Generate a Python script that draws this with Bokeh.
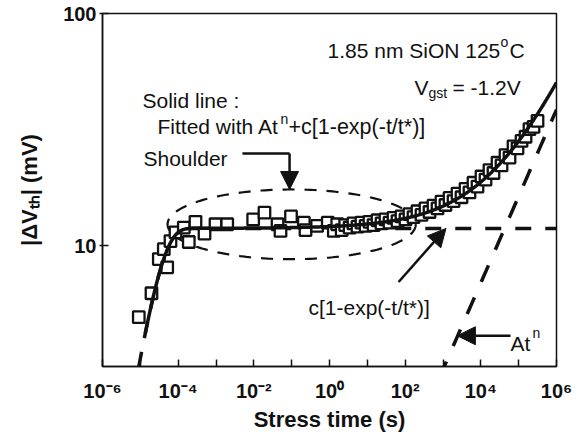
import numpy as np
from bokeh.plotting import figure
from bokeh.models import Label, Arrow, NormalHead, FixedTicker, CustomJSTickFormatter, Range1d
from bokeh.embed import file_html
from bokeh.resources import INLINE

# ---- measured threshold-voltage shift |dVth| (mV) versus stress time (s) ----
stress_time = [
    9.1e-6, 1.97e-5, 3.08e-5, 4.17e-5, 5.13e-5, 6.27e-5, 8.5e-5, 1.41e-4, 1.91e-4,
    2.87e-4, 4.97e-4, 9.7e-4, 1.98e-3, 9.6e-3, 1.91e-2, 4.23e-2, 5.07e-2, 9.6e-2,
    0.21, 0.232, 0.47, 0.90,
    1.3, 1.6, 2.1, 2.6, 3.4, 4.3, 5.5, 7.0, 9.0, 11.4, 14.6, 18.6, 23.7, 30.2, 38.6,
    49.2, 62.7, 80, 102, 130, 166, 212, 270, 345, 440, 561, 716, 912, 1160, 1490,
    1900, 2420, 3080, 3940, 5010, 6400, 8170, 10400, 13300, 16900, 21600, 27600,
    35200, 44900, 57300, 73000, 93100, 119000, 152000, 193000, 247000, 315000,
]
delta_vth = [
    4.94, 6.26, 8.78, 9.69, 8.09, 10.5, 11.45, 12.0, 10.4,
    12.7, 11.3, 12.4, 12.4, 13.0, 13.9, 12.4, 11.6, 13.4,
    12.6, 11.7, 12.2, 12.6,
    11.6, 12.4, 11.7, 12.3, 12.0, 12.5, 12.1, 12.6, 12.2, 12.7, 12.3, 12.9, 12.5, 13.0, 12.6,
    13.2, 12.8, 13.4, 13.0, 13.7, 13.3, 14.1, 13.6, 14.5, 14.0, 14.9, 14.5, 15.5, 15.0, 16.1,
    15.6, 16.8, 16.2, 17.6, 17.0, 18.7, 18.0, 19.9, 19.3, 21.2, 20.6, 22.8,
    22.2, 24.6, 24.0, 26.8, 26.3, 28.3, 29.5, 31.8, 32.5, 34.5,
]

# fitted model  dVth = A t^n + c [1 - exp(-t/t*)]
A_fit = 0.2246
n_fit = 0.3725
c_fit = 11.9
t_star = 3.1e-5

x_range = (1e-6, 1e6)
y_range = (3.03, 100)
x_tick_exponents = list(range(-6, 7))
x_tick_labels = ["10\u207b\u2076", "", "10\u207b\u2074", "", "10\u207b\u00b2", "",
                 "10\u2070", "", "10\u00b2", "", "10\u2074", "", "10\u2076"]
y_ticks = [10, 100]
y_tick_labels = ["10", "100"]
x_title = "Stress time (s)"
y_title = "|\u0394V\u209c\u2095| (mV)"

# ---- layout ----
W, H = 584, 434
LEFT, RIGHT, TOP, BOTTOM = 102, 28, 13, 66
FRAME_W, FRAME_H = W - LEFT - RIGHT, H - TOP - BOTTOM
FONT = "Liberation Sans"
INK = "#111111"

p = figure(width=W, height=H, x_axis_type="log", y_axis_type="log",
           x_range=Range1d(*x_range), y_range=Range1d(*y_range),
           output_backend="svg", toolbar_location=None,
           min_border_left=LEFT, min_border_right=RIGHT,
           min_border_top=TOP, min_border_bottom=BOTTOM)
p.title.visible = False
p.grid.visible = False
p.outline_line_color = INK
p.outline_line_width = 1.5
p.background_fill_color = "white"
p.border_fill_color = "white"

for ax in (p.xaxis[0], p.yaxis[0]):
    ax.axis_line_color = INK
    ax.axis_line_width = 1.5
    ax.major_tick_line_color = INK
    ax.major_tick_line_width = 1.5
    ax.minor_tick_line_color = None
    ax.major_label_text_font = FONT
    ax.major_label_text_font_style = "bold"
    ax.major_label_text_color = INK
    ax.axis_label_text_font = FONT
    ax.axis_label_text_font_style = "bold"
    ax.axis_label_text_color = INK

xax = p.xaxis[0]
xax.ticker = FixedTicker(ticks=[10.0 ** e for e in x_tick_exponents], minor_ticks=[])
xax.formatter = CustomJSTickFormatter(
    args=dict(exps=x_tick_exponents, labels=x_tick_labels),
    code="const i = exps.indexOf(Math.round(Math.log10(tick))); return i >= 0 ? labels[i] : '';")
xax.major_tick_in = 7
xax.major_tick_out = 0
xax.major_label_text_font_size = "20px"
xax.major_label_standoff = 13
xax.axis_label = x_title
xax.axis_label_text_font_size = "22px"
xax.axis_label_standoff = 2

yax = p.yaxis[0]
yax.ticker = FixedTicker(ticks=y_ticks, minor_ticks=[])
yax.formatter = CustomJSTickFormatter(
    args=dict(ticks_at=y_ticks, labels=y_tick_labels),
    code="const i = ticks_at.findIndex(v => Math.abs(v - tick) < 1e-9 * v); return i >= 0 ? labels[i] : '';")
yax.major_tick_in = 6
yax.major_tick_out = 3
yax.major_label_text_font_size = "20px"
yax.major_label_standoff = 3
yax.axis_label = y_title
yax.axis_label_text_font_size = "22px"
yax.axis_label_standoff = 18

lx0, lx1 = np.log10(x_range)
ly0, ly1 = np.log10(y_range)


def at(px, py):
    """Canvas position (pixels from top-left) -> data coordinates."""
    fx = (px - LEFT) / FRAME_W
    fy = (py - TOP) / FRAME_H
    return 10 ** (lx0 + fx * (lx1 - lx0)), 10 ** (ly1 - fy * (ly1 - ly0))


def text(px, py, s, size, bold=False, align="left"):
    x, y = at(px, py)
    p.add_layout(Label(x=x, y=y, text=s, text_font=FONT, text_font_size=f"{size}px",
                       text_font_style="bold" if bold else "normal",
                       text_color=INK, text_align=align, text_baseline="alphabetic"))


# ---- curves ----
# shoulder ellipse, drawn in log-log space
theta = np.linspace(0, 2 * np.pi, 240)
ell_lx = -1.0 + 3.28 * np.cos(theta)
ell_ly = 1.093 + 0.15 * np.sin(theta)
p.line(10 ** ell_lx, 10 ** ell_ly, line_color=INK, line_width=2.2, line_dash="12 10")

# c[1-exp(-t/t*)] component
t_c = np.logspace(np.log10(9e-6), 6, 500)
p.line(t_c, c_fit * (1 - np.exp(-t_c / t_star)), line_color=INK, line_width=3.5,
       line_dash="16 14")

# A t^n component
t_a = np.logspace(2.9, 6, 100)
p.line(t_a, A_fit * t_a ** n_fit, line_color=INK, line_width=3.5, line_dash="18 17")

# measured data
p.scatter(stress_time, delta_vth, marker="square", size=11.5, fill_color="white",
          line_color=INK, line_width=2.3)

# full fit
t_f = np.logspace(np.log10(1.35e-5), 6, 500)
p.line(t_f, A_fit * t_f ** n_fit + c_fit * (1 - np.exp(-t_f / t_star)),
       line_color=INK, line_width=3.5)

# ---- arrows ----
head = dict(size=18, fill_color=INK, line_color=INK, line_width=1)
p.line([5.0e-3, 8.8e-2], [25.0, 25.0], line_color=INK, line_width=2.5)
p.add_layout(Arrow(end=NormalHead(**head), x_start=8.8e-2, y_start=25.0,
                   x_end=8.8e-2, y_end=17.5, line_color=INK, line_width=2.5))
p.add_layout(Arrow(end=NormalHead(**head), x_start=67, y_start=7.0,
                   x_end=1.2e3, y_end=c_fit, line_color=INK, line_width=2.5))
p.add_layout(Arrow(end=NormalHead(**head), x_start=6.1e4, y_start=4.11,
                   x_end=2.4e3, y_end=4.11, line_color=INK, line_width=2.5))

# ---- annotation texts ----
text(327, 50, "1.85 nm SiON 125", 21)
text(500, 42, "o", 14)
text(509, 50, "C", 21)
text(414, 87, "V", 21)
text(428, 93, "gst", 14)
text(452, 87, "= -1.2V", 21)

text(142, 100, "Solid line :", 21)
text(157, 127, "Fitted with At", 21)
text(280, 119, "n", 14)
text(288, 127, "+c[1-exp(-t/t*)]", 21.5)
text(143, 159, "Shoulder", 21)
text(308, 309, "c[1-exp(-t/t*)]", 21)
text(510, 345, "At", 21)
text(532, 334, "n", 14)

open("out.html", "w").write(file_html(p, INLINE))
